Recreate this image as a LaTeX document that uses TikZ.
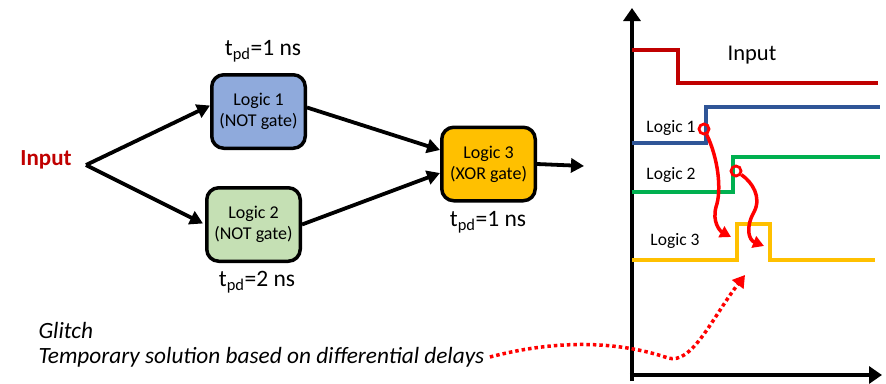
\documentclass[tikz,border=0pt]{standalone}
\usepackage{fontspec}
\setmainfont{Carlito}
\usetikzlibrary{arrows.meta,calc}
\definecolor{inred}{HTML}{C00000}
\definecolor{boxblue}{HTML}{8FAADC}
\definecolor{boxgreen}{HTML}{C5E0B4}
\definecolor{boxgold}{HTML}{FFC000}
\definecolor{sigblue}{HTML}{2F5597}
\definecolor{siggreen}{HTML}{00B050}
\definecolor{sigred}{HTML}{FF0000}
\tikzset{
  gatebox/.style={draw=black, line width=3.5pt, rounded corners=12pt,
    minimum width=93.5pt, minimum height=73.5pt, align=center,
    font=\fontsize{18}{21}\selectfont},
  flow/.style={line width=3.8pt, -{Triangle[length=13pt,width=14pt]}},
  delay/.style={font=\fontsize{23.5}{26}\selectfont},
  axis/.style={line width=4.3pt, -{Triangle[length=13pt,width=17pt]}},
  signal/.style={line width=3.5pt},
  siglabel/.style={font=\fontsize{17.5}{20}\selectfont},
  cause/.style={draw=sigred, line width=3.5pt, -{Triangle[length=11pt,width=12pt]}},
  ring/.style={circle, draw=sigred, line width=2.8pt, minimum size=10pt, inner sep=0pt},
}
\begin{document}
\begin{tikzpicture}[x=1pt,y=-1pt]
\useasboundingbox (0,0) rectangle (886,383);

% ---- circuit ----
\node[font=\fontsize{23}{26}\selectfont\bfseries, text=inred] (in) at (46,160) {Input};
\coordinate (split) at (86,165);
\node[gatebox, fill=boxblue] (l1) at (258.5,111.5) {Logic 1\\(NOT gate)};
\node[gatebox, fill=boxgreen] (l2) at (253.5,224.5) {Logic 2\\(NOT gate)};
\node[gatebox, fill=boxgold] (l3) at (488.5,164) {Logic 3\\(XOR gate)};
\coordinate (out) at (584,166);

\draw[flow] (split) -- ($(l1.west)+(0,-6)$);
\draw[flow] (split) -- ($(l2.west)+(-2,-1)$);
\draw[flow] ($(l1.east)+(0,-4)$) -- ($(l3.west)+(0,-14)$);
\draw[flow] (l2.east) -- ($(l3.west)+(0,9)$);
\draw[flow] (l3.east) -- (out);

\node[delay] (d1) at (263,51) {t\textsubscript{pd}=1 ns};
\node[delay] (d2) at (257,282) {t\textsubscript{pd}=2 ns};
\node[delay] (d3) at (488,222) {t\textsubscript{pd}=1 ns};

% ---- timing chart ----
\draw[axis] (632,381) -- (632,8);
\draw[axis] (629.85,375) -- (882,375);

\draw[signal, inred] (632,50) -- (678,50) -- (678,83) -- (878,83);
\draw[signal, sigblue] (632,143) -- (706,143) -- (706,107) -- (880,107);
\draw[signal, siggreen] (632,192) -- (733,192) -- (733,157) -- (880,157);
\draw[signal, boxgold] (632,260) -- (737,260) -- (737,224) -- (770,224) -- (770,260) -- (875,260);

\node[font=\fontsize{22.5}{26}\selectfont] (lin) at (752,55) {Input};
\node[siglabel] (ll1) at (671,128) {Logic 1};
\node[siglabel] (ll2) at (671,175) {Logic 2};
\node[siglabel] (ll3) at (675,241) {Logic 3};

\node[ring] (c1) at (704,129) {};
\node[ring] (c2) at (736,171) {};
\coordinate (t1) at (731,237);
\coordinate (t2) at (764,246);
\draw[cause] (c1) .. controls (718,158) and (722,190) .. (716,207)
  .. controls (712,222) and (720,231) .. (t1);
\draw[cause] (c2) .. controls (752,182) and (762,197) .. (754,212)
  .. controls (745,228) and (749,240) .. (t2);

% ---- note ----
\node[anchor=west, font=\fontsize{23.3}{27}\selectfont\itshape] (gl) at (35,330) {Glitch};
\node[anchor=west, font=\fontsize{23.3}{27}\selectfont\itshape] (tmp) at (35,357) {Temporary solution based on differential delays};
\coordinate (gtip) at (745,275);
\draw[sigred, line width=3.5pt, dash pattern=on 3.5pt off 3pt, -{Triangle[length=12pt,width=14pt]}]
  ($(tmp.east)+(2,0)$) .. controls (570,336) and (630,345) .. (668,358)
  .. controls (692,365) and (712,318) .. (gtip);
\end{tikzpicture}
\end{document}
